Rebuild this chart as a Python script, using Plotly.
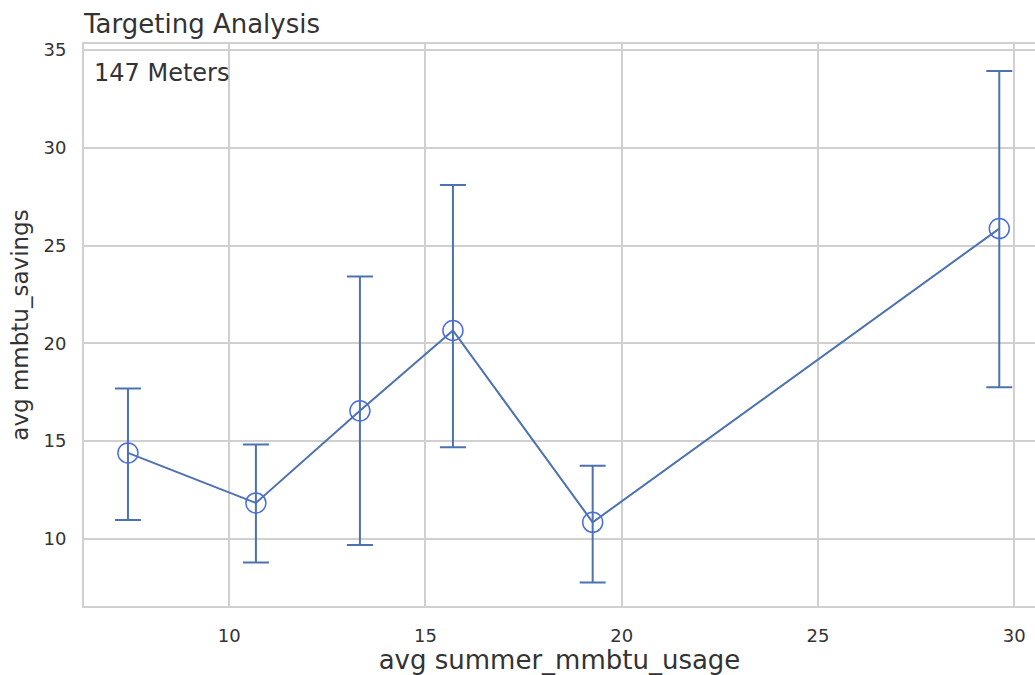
import plotly.graph_objects as go

# Data
usage = [7.42, 10.68, 13.33, 15.70, 19.26, 29.62]
savings = [14.40, 11.84, 16.55, 20.66, 10.85, 25.87]
err_upper = [17.69, 14.83, 23.42, 28.10, 13.74, 33.93]
err_lower = [10.97, 8.79, 9.69, 14.69, 7.77, 17.76]
x_ticks = [10, 15, 20, 25, 30]
y_ticks = [10, 15, 20, 25, 30, 35]
title_text = "Targeting Analysis"
note_text = "147 Meters"

plus = [u - s for u, s in zip(err_upper, savings)]
minus = [s - l for s, l in zip(savings, err_lower)]

FONT = "DejaVu Sans"
LINE_BLUE = "#4C72B0"
MARK_BLUE = "#4a6fdc"
GRID = "#d0d0d0"
TXT = "#333333"

fig = go.Figure()
fig.add_trace(go.Scatter(
    x=usage, y=savings, mode="lines+markers",
    line=dict(color=LINE_BLUE, width=2),
    marker=dict(symbol="circle-open", size=20, color=MARK_BLUE,
                line=dict(color=MARK_BLUE, width=1.5)),
    error_y=dict(type="data", symmetric=False, array=plus, arrayminus=minus,
                 color=LINE_BLUE, thickness=2, width=13),
    showlegend=False, hoverinfo="skip",
))

fig.update_layout(
    width=1035, height=675,
    template="none",
    paper_bgcolor="white", plot_bgcolor="white",
    margin=dict(l=84, r=0, t=44, b=69),
    font=dict(family=FONT, color=TXT),
    title=dict(text=title_text, x=84 / 1035, xanchor="left",
               y=1 - 24 / 675, yanchor="middle",
               font=dict(size=26, color=TXT, family=FONT)),
    annotations=[dict(text=note_text, xref="paper", yref="paper",
                      x=0, xshift=8, y=1, yshift=-29, xanchor="left", yanchor="middle",
                      showarrow=False, font=dict(size=24, color=TXT, family=FONT))],
)

fig.update_xaxes(
    range=[6.30, 30.53], tickvals=x_ticks, ticktext=[str(v) for v in x_ticks],
    showgrid=True, gridcolor=GRID, gridwidth=1.5, zeroline=False,
    showline=True, linecolor=GRID, linewidth=2, mirror=True,
    ticks="outside", ticklen=12, tickcolor="rgba(0,0,0,0)",
    tickfont=dict(size=18, color=TXT, family=FONT),
    title=dict(text="avg summer_mmbtu_usage", font=dict(size=26, color=TXT, family=FONT),
               standoff=2),
)
fig.update_yaxes(
    range=[6.57, 35.31], tickvals=y_ticks, ticktext=[str(v) for v in y_ticks],
    showgrid=True, gridcolor=GRID, gridwidth=1.5, zeroline=False,
    showline=True, linecolor=GRID, linewidth=2, mirror=False,
    ticks="outside", ticklen=12, tickcolor="rgba(0,0,0,0)",
    tickfont=dict(size=18, color=TXT, family=FONT),
    title=dict(text="avg mmbtu_savings", font=dict(size=23, color=TXT, family=FONT),
               standoff=8),
)

fig.write_html("out.html")
